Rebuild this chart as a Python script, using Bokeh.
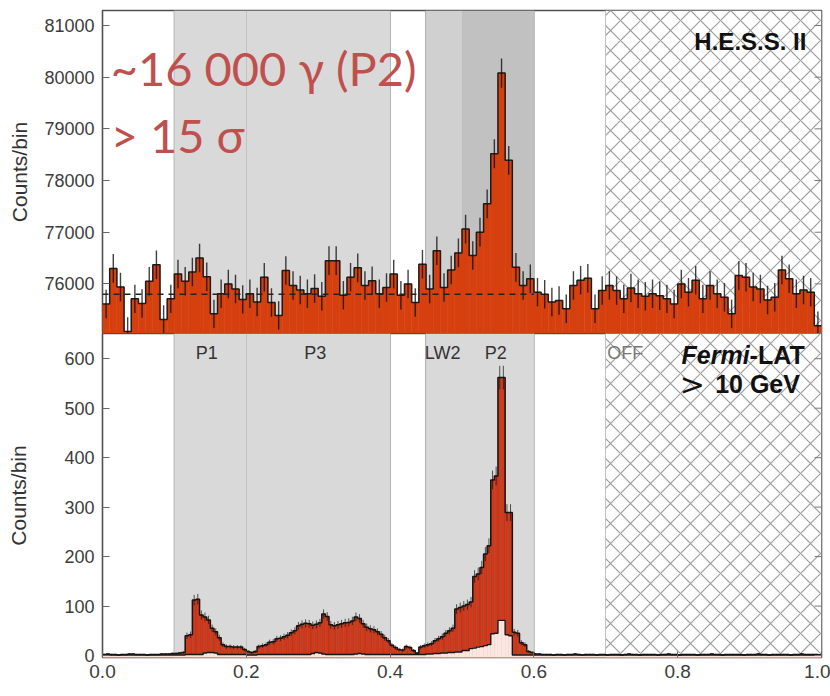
import numpy as np
from bokeh.plotting import figure
from bokeh.models import Range1d, FixedTicker, Label, PrintfTickFormatter, ColumnDataSource, Span
from bokeh.layouts import column
from bokeh.embed import file_html
from bokeh.resources import INLINE

# ---------------- data ----------------
hess_counts = [
    75610, 76300, 75940, 75080, 75710, 75620, 76050, 76370, 75310, 75710,
    76190, 76050, 76230, 76500, 76140, 75420, 75810, 76000, 75900, 75700,
    75810, 75650, 76130, 75640, 75390, 76260, 75970, 75880, 75810, 75910,
    75760, 76450, 76450, 75780, 76130, 76310, 75970, 76060, 75810, 75930,
    76190, 75780, 76000, 75640, 76380, 75900, 76640, 75930, 76270, 76600,
    77060, 76550, 77000, 77550, 78520, 80080, 78390, 76320, 75970, 76100,
    75840, 75800, 75650, 75680, 75520, 75970, 76070, 76110, 75520, 75870,
    75970, 75870, 75710, 75920, 75810, 75760, 75810, 75770, 75710, 75610,
    76000, 75840, 76070, 75710, 75970, 75810, 75740, 75420, 76160, 76130,
    75940, 75900, 75690, 75740, 76270, 76100, 75810, 75880, 75840, 75190,
]
hess_background = 75800
hess_background_end = 0.6

lat_counts = [
    2, 3, 2, 2, 1, 2, 2, 3, 3, 2, 2, 2, 1, 2, 2, 2, 3, 3, 3, 4,
    4, 5, 6, 40, 42, 112, 114, 82, 78, 72, 55, 48, 36, 22, 18, 18, 17, 17, 17, 12,
    8, 6, 8, 18, 20, 22, 27, 28, 34, 35, 38, 41, 46, 50, 60, 63, 65, 64, 61, 63,
    66, 84, 79, 62, 60, 62, 64, 66, 67, 70, 78, 75, 64, 57, 54, 52, 48, 43, 36, 30,
    21, 16, 12, 11, 18, 16, 10, 5, 17, 20, 22, 24, 30, 34, 38, 45, 50, 55, 94, 97,
    100, 103, 108, 160, 165, 178, 205, 222, 355, 363, 562, 562, 289, 289, 47, 45, 26, 22, 8, 6,
    3, 3, 2, 2, 2, 1, 2, 2, 1, 2, 2, 3, 2, 1, 2, 2, 2, 1, 2, 2,
    1, 2, 2, 2, 1, 2, 3, 2, 2, 1, 2, 2, 2, 2, 1, 2, 2, 3, 2, 2,
    1, 2, 2, 2, 2, 1, 2, 2, 2, 3, 2, 2, 1, 2, 2, 2, 2, 2, 1, 2,
    2, 2, 3, 2, 2, 1, 2, 2, 2, 2, 2, 1, 2, 2, 3, 2, 2, 2, 2, 1,
]
lat_pink = [
    1, 1, 1, 1, 1, 1, 1, 1, 1, 1, 1, 1, 1, 1, 1, 1, 1, 1, 1, 1,
    1, 1, 1, 2, 2, 2, 2, 2, 5, 6, 6, 5, 2, 2, 2, 2, 2, 2, 2, 2,
    1, 1, 1, 2, 2, 2, 2, 2, 2, 2, 2, 2, 2, 2, 2, 2, 2, 2, 4, 6,
    5, 3, 2, 2, 2, 2, 2, 2, 2, 2, 3, 4, 3, 2, 2, 2, 2, 2, 2, 2,
    2, 2, 2, 2, 2, 2, 2, 2, 2, 2, 3, 3, 4, 4, 5, 5, 6, 6, 7, 7,
    10, 10, 14, 15, 17, 18, 20, 22, 44, 45, 71, 71, 42, 40, 1, 1, 1, 1, 1, 1,
    1, 1, 1, 1, 1, 1, 1, 1, 1, 1, 1, 1, 1, 1, 1, 1, 1, 1, 1, 1,
    1, 1, 1, 1, 1, 1, 1, 1, 1, 1, 1, 1, 1, 1, 1, 1, 1, 1, 1, 1,
    1, 1, 1, 1, 1, 1, 1, 1, 1, 1, 1, 1, 1, 1, 1, 1, 1, 1, 1, 1,
    1, 1, 1, 1, 1, 1, 1, 1, 1, 1, 1, 1, 1, 1, 1, 1, 1, 1, 1, 1,
]

region_names = ["P1", "P3", "LW2", "P2", "OFF"]
region_lo = [0.10, 0.20, 0.45, 0.50, 0.70]
region_hi = [0.20, 0.40, 0.50, 0.60, 1.00]

hess_ticks = [76000, 77000, 78000, 79000, 80000, 81000]
lat_ticks = [0, 100, 200, 300, 400, 500, 600]
phase_ticks = [0.0, 0.2, 0.4, 0.6, 0.8, 1.0]

# ---------------- styles ----------------
FONT = "Liberation Sans"
TICK_COL = "#3c3c3c"
HESS_RED = "#d6400f"
LAT_RED = "#cf3a1c"
PINK = "#fbe6e2"
TICK_LEN_X = 0.0097   # ~7 px in phase units (frame is ~719 px wide)

top_gray = {"P1": "#d9d9d9", "P3": "#d9d9d9", "LW2": "#d0d0d0", "P2": "#c1c1c1"}
bot_gray = {"P1": "#d9d9d9", "P3": "#d9d9d9", "LW2": "#d9d9d9", "P2": "#d9d9d9"}
edge_colors = {0.10: "#a8a8a8", 0.20: "#6e6e6e", 0.40: "#a8a8a8", 0.45: "#9a9a9a",
               0.50: "#8c8c8c", 0.60: "#a8a8a8", 0.70: "#b4b4b4"}


def make_fig(height, yr, top_b, bot_b, xaxis):
    p = figure(width=830, height=height, x_range=Range1d(0, 1), y_range=Range1d(*yr),
               output_backend="svg", toolbar_location=None,
               min_border_left=102, min_border_right=9,
               min_border_top=top_b, min_border_bottom=bot_b,
               x_axis_location="below" if xaxis else None)
    p.grid.visible = False
    p.outline_line_color = "#505050"
    p.outline_line_width = 1.6
    p.background_fill_color = "white"
    p.border_fill_color = "white"
    return p


def style_y(p, ticks, label_standoff):
    ax = p.yaxis[0]
    ax.ticker = FixedTicker(ticks=ticks)
    ax.axis_line_color = None
    ax.major_tick_in = 7
    ax.major_tick_out = 0
    ax.major_tick_line_color = "#666666"
    ax.minor_tick_line_color = None
    ax.major_label_text_font = FONT
    ax.major_label_text_font_size = "18px"
    ax.major_label_text_color = TICK_COL
    ax.major_label_standoff = 8
    ax.axis_label = "Counts/bin"
    ax.axis_label_text_font = FONT
    ax.axis_label_text_font_size = "21px"
    ax.axis_label_text_font_style = "normal"
    ax.axis_label_text_color = "#333333"
    ax.axis_label_standoff = label_standoff
    # mirrored inward ticks on the right edge
    p.segment(x0=[1.0] * len(ticks), x1=[1.0 - TICK_LEN_X] * len(ticks),
              y0=ticks, y1=ticks, line_color="#777777", line_width=1)


def draw_regions(p, grays, y0, y1):
    for name, lo, hi in zip(region_names, region_lo, region_hi):
        if name == "OFF":
            p.quad(left=lo, right=hi, bottom=y0, top=y1, fill_color="white",
                   line_color=None, hatch_pattern="diagonal_cross",
                   hatch_color="#9c9c9c", hatch_scale=20, hatch_weight=1.2)
        else:
            p.quad(left=lo, right=hi, bottom=y0, top=y1, fill_color=grays[name],
                   line_color=None)
    for loc, col in edge_colors.items():
        p.add_layout(Span(location=loc, dimension="height", line_color=col,
                          line_width=1.6, level="underlay"))


def histogram(p, vals, fill, bottom, stripe=None):
    n = len(vals)
    edges = np.arange(n + 1) / n
    src = ColumnDataSource(dict(left=edges[:-1], right=edges[1:], top=vals,
                                bottom=[bottom] * n))
    if stripe:
        p.quad(left="left", right="right", top="top", bottom="bottom", source=src,
               fill_color=fill, line_color=stripe, line_width=0.6, line_alpha=0.55)
    else:
        p.quad(left="left", right="right", top="top", bottom="bottom", source=src,
               fill_color=fill, line_color=fill, line_width=0.5)


def outline(p, vals, col="#151515", w=1.5):
    n = len(vals)
    edges = np.arange(n + 1) / n
    ys = list(vals) + [vals[-1]]
    p.step(x=edges, y=ys, mode="after", line_color=col, line_width=w)


def errbars(p, vals, w, alpha):
    n = len(vals)
    c = (np.arange(n) + 0.5) / n
    v = np.asarray(vals, dtype=float)
    e = np.sqrt(v)
    p.segment(x0=c, y0=v - e, x1=c, y1=v + e, line_color="#111111",
              line_width=w, line_alpha=alpha)


# ---------------- top panel: H.E.S.S. II ----------------
TOP_Y = (75040, 81290)
p1 = make_fig(333, TOP_Y, 10, 0, False)
draw_regions(p1, top_gray, TOP_Y[0], TOP_Y[1])
histogram(p1, hess_counts, HESS_RED, TOP_Y[0])
outline(p1, hess_counts, "#1c1c1c", 1.5)
errbars(p1, hess_counts, 1.4, 0.8)
p1.line(x=[0, hess_background_end], y=[hess_background, hess_background],
        line_color="#222222", line_width=1.5, line_dash="6 5")
style_y(p1, hess_ticks, 10)

p1.add_layout(Label(x=0.0115, y=80170, text="~16 000 γ (P2)", text_font="Lato",
                    text_font_size="47px", text_color="#c0504d", text_baseline="alphabetic"))
p1.add_layout(Label(x=0.0115, y=78880, text="> 15 σ", text_font="Lato",
                    text_font_size="47px", text_color="#c0504d", text_baseline="alphabetic"))
p1.add_layout(Label(x=0.979, y=80690, text="H.E.S.S. II", text_font=FONT,
                    text_font_size="24px", text_font_style="bold", text_color="#111111",
                    text_align="right", text_baseline="alphabetic"))

# ---------------- bottom panel: Fermi-LAT ----------------
BOT_Y = (-4, 651)
p2 = make_fig(363, BOT_Y, 0, 39, True)
draw_regions(p2, bot_gray, BOT_Y[0], BOT_Y[1])
histogram(p2, lat_counts, LAT_RED, BOT_Y[0], stripe="#9e2a12")
histogram(p2, lat_pink, PINK, BOT_Y[0])
outline(p2, lat_counts, "#151515", 1.5)
outline(p2, lat_pink, "#151515", 1.4)
errbars(p2, lat_counts, 1.0, 0.7)
style_y(p2, lat_ticks, 31)

xa = p2.xaxis[0]
xa.ticker = FixedTicker(ticks=phase_ticks)
xa.formatter = PrintfTickFormatter(format="%.1f")
xa.axis_line_color = None
xa.major_tick_in = 6
xa.major_tick_out = 0
xa.major_tick_line_color = "#666666"
xa.minor_tick_line_color = None
xa.major_label_text_font = FONT
xa.major_label_text_font_size = "19px"
xa.major_label_text_color = TICK_COL
xa.major_label_standoff = 7

label_x = [0.145, 0.296, 0.473, 0.547, 0.727]
for name, lx in zip(region_names, label_x):
    p2.add_layout(Label(x=lx, y=611, text=name, text_font=FONT, text_font_size="18px",
                        text_color="#777777" if name == "OFF" else "#333333",
                        text_align="center", text_baseline="alphabetic"))

p2.add_layout(Label(x=0.90, y=607, text="Fermi", text_font=FONT, text_font_size="25px",
                    text_font_style="bold italic", text_color="#111111",
                    text_align="right", text_baseline="alphabetic"))
p2.add_layout(Label(x=0.90, y=607, text="-LAT", text_font=FONT, text_font_size="25px",
                    text_font_style="bold", text_color="#111111",
                    text_align="left", text_baseline="alphabetic"))
p2.add_layout(Label(x=0.803, y=548, text=">", text_font="DejaVu Sans", text_font_size="30px",
                    text_color="#111111", text_align="left", text_baseline="alphabetic"))
p2.add_layout(Label(x=0.97, y=548, text="10 GeV", text_font=FONT, text_font_size="25px",
                    text_font_style="bold", text_color="#111111",
                    text_align="right", text_baseline="alphabetic"))
p2.add_layout(Label(x=0.45, y=-57, text="Phase", text_font=FONT, text_font_size="20px",
                    text_color="#333333", text_align="center", text_baseline="top"))

layout = column(p1, p2, spacing=0)
open("out.html", "w").write(file_html(layout, INLINE))
